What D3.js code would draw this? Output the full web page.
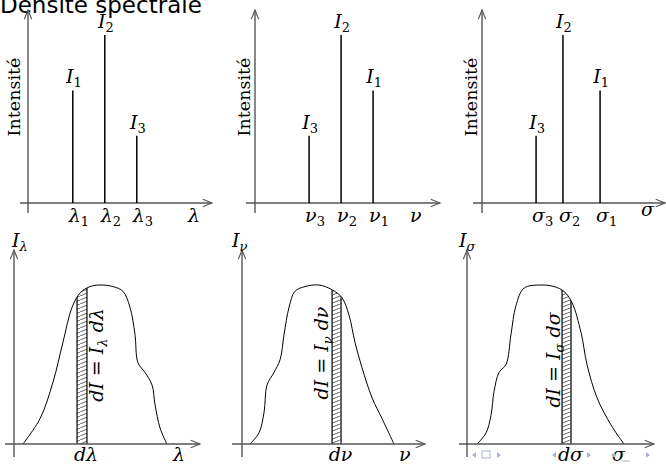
<!DOCTYPE html>
<html>
<head>
<meta charset="utf-8">
<script src="https://cdn.jsdelivr.net/npm/d3@7"></script>
<style>
  body { margin: 0; background: #fff; }
  svg { display: block; }
</style>
</head>
<body>
<div id="chart"></div>
<script>
// raies discrètes : intensités I1, I2, I3 et positions sur chaque axe
const intensities = [0.67, 1.0, 0.40];
const lineNames = ["1", "2", "3"];
const lambdaPos = [1.4, 2.4, 3.4];
const nuPos = [3.69, 2.69, 1.69];
const sigmaPos = [3.69, 2.53, 1.69];

// densités continues [abscisse, intensité]
const lambdaCurve = [[0.56, 0], [1.63, 0.16], [2.44, 0.39], [3.06, 0.64], [3.63, 0.86], [4.13, 0.95],
  [4.75, 0.99], [5.38, 1.0], [6.19, 0.99], [6.81, 0.96], [7.25, 0.86], [7.56, 0.69], [7.75, 0.51],
  [8.19, 0.45], [8.63, 0.37], [8.81, 0.25], [9.13, 0.10], [9.56, 0]];
const nuCurve = [[0.5, 0], [1.06, 0.07], [1.38, 0.20], [1.56, 0.37], [2.0, 0.45], [2.38, 0.53],
  [2.63, 0.69], [2.94, 0.86], [3.31, 0.96], [3.94, 0.99], [4.81, 1.0], [5.63, 0.97], [6.25, 0.92],
  [6.69, 0.81], [7.06, 0.64], [7.5, 0.48], [8.13, 0.29], [8.75, 0.16], [9.5, 0]];
const sigmaCurve = [[0.63, 0], [1.19, 0.07], [1.5, 0.18], [1.69, 0.33], [2.0, 0.45], [2.44, 0.5],
  [2.75, 0.69], [3.06, 0.87], [3.56, 0.98], [4.63, 1.0], [5.44, 0.99], [6.06, 0.96], [6.56, 0.89],
  [7.13, 0.70], [7.5, 0.50], [8.13, 0.29], [9.0, 0.12], [9.81, 0]];
// bande élémentaire hachurée
const stripLambda = [3.94, 4.56];
const stripNu = [5.63, 6.19];
const stripSigma = [5.94, 6.5];

const W = 666, H = 464;
const serif = "'DejaVu Serif', serif";
const axisColor = "#555";

const svg = d3.select("#chart").append("svg").attr("width", W).attr("height", H);

// motif de hachures
const defs = svg.append("defs");
defs.append("pattern")
  .attr("id", "hatch")
  .attr("patternUnits", "userSpaceOnUse")
  .attr("width", 10).attr("height", 4)
  .append("path")
  .attr("d", "M0,4 L10,0 M-10,4 L0,0 M10,4 L20,0")
  .attr("stroke", "#222").attr("stroke-width", 0.7);

svg.append("text")
  .attr("x", 0).attr("y", 13)
  .style("font-family", "'DejaVu Sans', sans-serif")
  .style("font-size", "23px")
  .text("Densité spectrale");

function arrowAxis(g, x1, y1, x2, y2) {
  g.append("line").attr("x1", x1).attr("y1", y1).attr("x2", x2).attr("y2", y2)
    .attr("stroke", axisColor).attr("stroke-width", 1.4);
  const a = Math.atan2(y2 - y1, x2 - x1);
  const L = 10, S = 0.38;
  const p = [[x2 - L * Math.cos(a - S), y2 - L * Math.sin(a - S)], [x2, y2],
    [x2 - L * Math.cos(a + S), y2 - L * Math.sin(a + S)]];
  g.append("path").attr("d", d3.line()(p)).attr("fill", "none")
    .attr("stroke", axisColor).attr("stroke-width", 1.1);
}

// symbole avec indice : I_2, λ_1 ...
function mathLabel(g, x, y, main, sub, anchor, size) {
  size = size || 19;
  const t = g.append("text").attr("x", x).attr("y", y)
    .attr("text-anchor", anchor || "start")
    .style("font-family", serif).style("font-size", size + "px");
  t.append("tspan").style("font-style", "italic").text(main);
  if (sub) {
    const isDigit = /\d/.test(sub);
    t.append("tspan").attr("dy", 4).style("font-size", Math.round(size * 0.68) + "px")
      .style("font-style", isDigit ? "normal" : "italic").text(sub);
  }
  return t;
}

// ---- rangée du haut : spectres de raies ----
const yTop = d3.scaleLinear().domain([0, 1]).range([203, 35]);
const topPanels = [
  { ox: 28, x0: 20, x1: 212, pos: lambdaPos, sym: "λ", labX: 188, labY: 222, intX: 20 },
  { ox: 255, x0: 246, x1: 440, pos: nuPos, sym: "ν", labX: 410, labY: 222, intX: 250 },
  { ox: 482, x0: 473, x1: 665, pos: sigmaPos, sym: "σ", labX: 641, labY: 216, intX: 477 }
];

topPanels.forEach(p => {
  const g = svg.append("g");
  const x = d3.scaleLinear().domain([0, 6]).range([p.ox, p.ox + 192]);
  arrowAxis(g, p.x0, yTop(0), p.x1, yTop(0));
  arrowAxis(g, p.ox, 213, p.ox, 10);

  g.selectAll("line.raie").data(p.pos).join("line")
    .attr("class", "raie")
    .attr("x1", d => x(d)).attr("x2", d => x(d))
    .attr("y1", yTop(0)).attr("y2", (d, i) => yTop(intensities[i]))
    .attr("stroke", "#000").attr("stroke-width", 1.5);

  p.pos.forEach((d, i) => {
    mathLabel(g, x(d) + 1, yTop(intensities[i]) - 7, "I", lineNames[i], "middle");
    mathLabel(g, x(d) - 4, 222, p.sym, lineNames[i], "start");
  });
  mathLabel(g, p.labX, p.labY, p.sym, null, "start");

  g.append("text")
    .attr("transform", `translate(${p.intX},97) rotate(-90)`)
    .attr("text-anchor", "middle")
    .style("font-family", serif).style("font-size", "17.5px")
    .text("Intensité");
});

// ---- rangée du bas : densités continues ----
const yBot = d3.scaleLinear().domain([0, 1]).range([444, 285]);
const botPanels = [
  { ox: 14, x0: 5, x1: 200, curve: lambdaCurve, strip: stripLambda, sym: "λ",
    yLabX: 12, symX: 173, txtX: 103, txtY: 355 },
  { ox: 242, x0: 232, x1: 425, curve: nuCurve, strip: stripNu, sym: "ν",
    yLabX: 232, symX: 399, txtX: 328, txtY: 353 },
  { ox: 467, x0: 459, x1: 654, curve: sigmaCurve, strip: stripSigma, sym: "σ",
    yLabX: 459, symX: 612, txtX: 560, txtY: 360 }
];

botPanels.forEach((p, k) => {
  const g = svg.append("g");
  const x = d3.scaleLinear().domain([0, 10]).range([p.ox, p.ox + 160]);
  const curveType = d3.curveCatmullRom.alpha(0.5);

  const clipId = "clip" + k;
  defs.append("clipPath").attr("id", clipId).append("path")
    .attr("d", d3.area().x(d => x(d[0])).y0(yBot(0)).y1(d => yBot(d[1])).curve(curveType)(p.curve));

  const sg = g.append("g").attr("clip-path", `url(#${clipId})`);
  sg.append("rect")
    .attr("x", x(p.strip[0])).attr("width", x(p.strip[1]) - x(p.strip[0]))
    .attr("y", yBot(1.1)).attr("height", yBot(0) - yBot(1.1))
    .attr("fill", "url(#hatch)");
  sg.selectAll("line").data(p.strip).join("line")
    .attr("x1", d => x(d)).attr("x2", d => x(d))
    .attr("y1", yBot(0)).attr("y2", yBot(1.1))
    .attr("stroke", "#000").attr("stroke-width", 1.2);

  g.append("path")
    .attr("d", d3.line().x(d => x(d[0])).y(d => yBot(d[1])).curve(curveType)(p.curve))
    .attr("fill", "none").attr("stroke", "#000").attr("stroke-width", 1);

  arrowAxis(g, p.x0, yBot(0), p.x1, yBot(0));
  arrowAxis(g, p.ox, 457, p.ox, 250);

  mathLabel(g, p.yLabX, 247, "I", p.sym, "start");
  mathLabel(g, p.symX, 461, p.sym, null, "start");
  const mid = (x(p.strip[0]) + x(p.strip[1])) / 2 + 4;
  mathLabel(g, mid, 461, "d" + p.sym, null, "middle");

  const t = g.append("text")
    .attr("transform", `translate(${p.txtX},${p.txtY}) rotate(-90)`)
    .attr("text-anchor", "middle")
    .style("font-family", serif).style("font-size", "19px");
  t.append("tspan").style("font-style", "italic").text("dI");
  t.append("tspan").text(" = ");
  t.append("tspan").style("font-style", "italic").text("I");
  t.append("tspan").attr("dy", 4).style("font-size", "13px").style("font-style", "italic").text(p.sym);
  t.append("tspan").attr("dy", -4).style("font-style", "italic").text(" d" + p.sym);
});

// symboles de navigation (beamer)
const nav = svg.append("g").attr("fill", "#a9b4d2").attr("stroke", "#a9b4d2");
[[474, -1], [499, 1], [554, -1], [589, 1], [613, -1], [648, 1]].forEach(([cx, dir]) => {
  nav.append("path").attr("stroke", "none")
    .attr("d", `M${cx - 2 * dir},452 L${cx + 2 * dir},455 L${cx - 2 * dir},458 Z`);
});
nav.append("rect").attr("x", 482).attr("y", 451).attr("width", 8).attr("height", 7)
  .attr("fill", "none").attr("stroke-width", 1);
nav.append("line").attr("x1", 621).attr("x2", 630).attr("y1", 461).attr("y2", 461).attr("stroke-width", 1);
</script>
</body>
</html>
